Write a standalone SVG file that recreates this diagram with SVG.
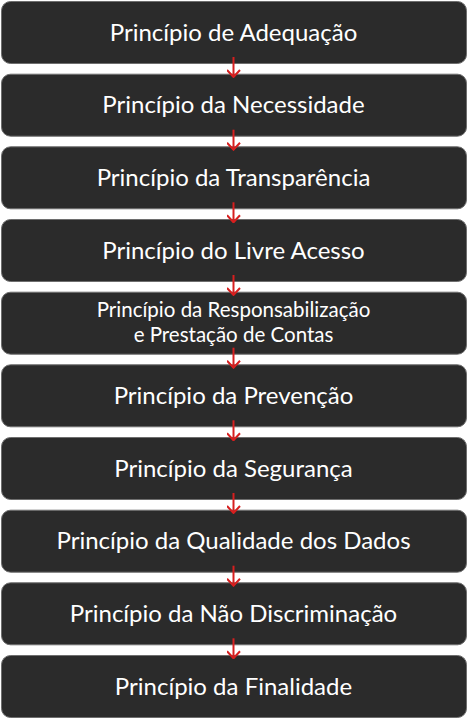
<svg xmlns="http://www.w3.org/2000/svg" width="468" height="719" viewBox="0 0 468 719">
<defs>
<style>
.box{fill:#2b2b2b;stroke:#6e6e6e;stroke-width:1}
.t{font-family:Lato,"Open Sans",sans-serif;font-size:24px;fill:#ffffff;text-anchor:middle}
.s{font-size:20.5px}
.c{stroke:#d71f1f;stroke-width:2;fill:none}
</style>
<marker id="ah" markerWidth="10" markerHeight="14" viewBox="0 0 10 14" refX="9" refY="7" orient="auto" markerUnits="userSpaceOnUse">
<path d="M2,0.5 L9,7 L2,13.5" fill="none" stroke="#d71f1f" stroke-width="2"/>
</marker>
</defs>
<rect width="468" height="719" fill="#ffffff"/>
<g id="n1"><rect class="box" x="1.5" y="1.5" width="465" height="62" rx="9"/><text class="t" x="233.5" y="40.5">Princípio de Adequação</text></g>
<g id="n2"><rect class="box" x="1.5" y="74.2" width="465" height="62" rx="9"/><text class="t" x="233.5" y="113">Princípio da Necessidade</text></g>
<g id="n3"><rect class="box" x="1.5" y="146.8" width="465" height="62" rx="9"/><text class="t" x="233.5" y="186">Princípio da Transparência</text></g>
<g id="n4"><rect class="box" x="1.5" y="219.5" width="465" height="62" rx="9"/><text class="t" x="233.5" y="258.5">Princípio do Livre Acesso</text></g>
<g id="n5"><rect class="box" x="1.5" y="292.2" width="465" height="62" rx="9"/><text class="t s" x="233.5" y="317">Princípio da Responsabilização</text><text class="t s" x="233.5" y="342">e Prestação de Contas</text></g>
<g id="n6"><rect class="box" x="1.5" y="364.8" width="465" height="62" rx="9"/><text class="t" x="233.5" y="404">Princípio da Prevenção</text></g>
<g id="n7"><rect class="box" x="1.5" y="437.5" width="465" height="62" rx="9"/><text class="t" x="233.5" y="476.5">Princípio da Segurança</text></g>
<g id="n8"><rect class="box" x="1.5" y="510.2" width="465" height="62" rx="9"/><text class="t" x="233.5" y="549">Princípio da Qualidade dos Dados</text></g>
<g id="n9"><rect class="box" x="1.5" y="582.8" width="465" height="62" rx="9"/><text class="t" x="233.5" y="622">Princípio da Não Discriminação</text></g>
<g id="n10"><rect class="box" x="1.5" y="655.5" width="465" height="62" rx="9"/><text class="t" x="233.5" y="694.5">Princípio da Finalidade</text></g>
<g id="connectors">
<line class="c" x1="233.5" y1="57" x2="233.5" y2="77" marker-end="url(#ah)"/>
<line class="c" x1="233.5" y1="129.7" x2="233.5" y2="149.7" marker-end="url(#ah)"/>
<line class="c" x1="233.5" y1="202.3" x2="233.5" y2="222.3" marker-end="url(#ah)"/>
<line class="c" x1="233.5" y1="275" x2="233.5" y2="295" marker-end="url(#ah)"/>
<line class="c" x1="233.5" y1="347.7" x2="233.5" y2="367.7" marker-end="url(#ah)"/>
<line class="c" x1="233.5" y1="420.3" x2="233.5" y2="440.3" marker-end="url(#ah)"/>
<line class="c" x1="233.5" y1="493" x2="233.5" y2="513" marker-end="url(#ah)"/>
<line class="c" x1="233.5" y1="565.7" x2="233.5" y2="585.7" marker-end="url(#ah)"/>
<line class="c" x1="233.5" y1="638.3" x2="233.5" y2="658.3" marker-end="url(#ah)"/>
</g>
</svg>
